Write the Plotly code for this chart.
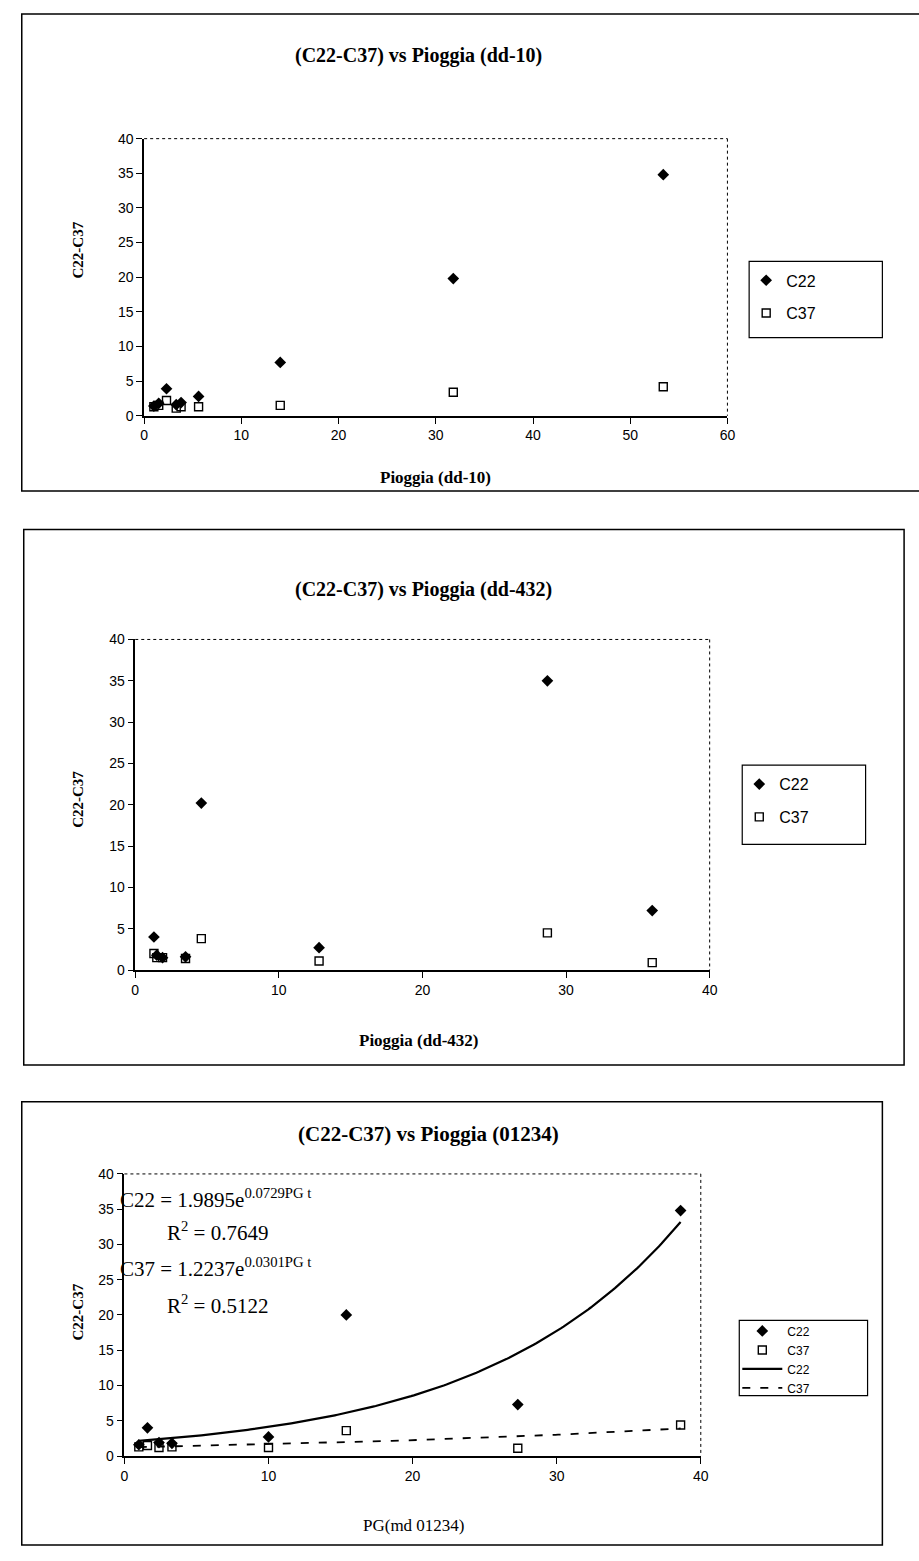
import numpy as np
import plotly.graph_objects as go

W, H = 919, 1561

# ---------------- data ----------------
# Panel 1: (C22-C37) vs Pioggia (dd-10)
p1_x = [1.0, 1.5, 2.3, 3.3, 3.8, 5.6, 14.0, 31.8, 53.4]
p1_c22 = [1.4, 1.8, 3.9, 1.6, 1.9, 2.8, 7.7, 19.8, 34.8]
p1_c37 = [1.3, 1.5, 2.2, 1.1, 1.3, 1.3, 1.5, 3.4, 4.2]

# Panel 2: (C22-C37) vs Pioggia (dd-432)
p2_x = [1.3, 1.5, 1.9, 3.5, 4.6, 12.8, 28.7, 36.0]
p2_c22 = [4.0, 1.8, 1.5, 1.6, 20.2, 2.7, 35.0, 7.2]
p2_c37 = [2.0, 1.5, 1.5, 1.4, 3.8, 1.1, 4.5, 0.9]

# Panel 3: (C22-C37) vs Pioggia (01234)
p3_x = [1.0, 1.6, 2.4, 3.3, 10.0, 15.4, 27.3, 38.6]
p3_c22 = [1.6, 4.0, 1.9, 1.8, 2.7, 20.0, 7.3, 34.8]
p3_c37 = [1.3, 1.5, 1.2, 1.3, 1.2, 3.6, 1.1, 4.4]

# exponential trendline coefficients, as printed on the chart
c22_fit = [1.9895, 0.0729]
c37_fit = [1.2237, 0.0301]

titles = ["(C22-C37) vs Pioggia (dd-10)", "(C22-C37) vs Pioggia (dd-432)",
          "(C22-C37) vs Pioggia (01234)"]
xtitles = ["Pioggia (dd-10)", "Pioggia (dd-432)", "PG(md 01234)"]
ytitle = "C22-C37"

# ---------------- helpers ----------------
def fx(px):
    return px / W

def fy(py):
    return 1 - py / H

SERIF = "Liberation Serif"
SANS = "Liberation Sans"

fig = go.Figure()

# plot-area pixel boxes: (left, right, top, bottom)
boxes = [(142, 733, 132, 412), (133, 715, 638, 972), (122, 706, 1178, 1463)]
xmax = [60, 40, 40]

diamond = dict(symbol="diamond", size=9, color="black")
square = dict(symbol="square-open", size=8, color="black", line=dict(width=1.4, color="black"))

panels = [(p1_x, p1_c22, p1_c37), (p2_x, p2_c22, p2_c37), (p3_x, p3_c22, p3_c37)]
legend_names = ["legend", "legend2", "legend3"]
for i, (xs, a, b) in enumerate(panels):
    xa = "x" if i == 0 else f"x{i+1}"
    ya = "y" if i == 0 else f"y{i+1}"
    fig.add_trace(go.Scatter(x=xs, y=a, mode="markers", marker=diamond, name="C22",
                             xaxis=xa, yaxis=ya, legend=legend_names[i], legendgroup=f"a{i}"))
    fig.add_trace(go.Scatter(x=xs, y=b, mode="markers", marker=square, name="C37",
                             xaxis=xa, yaxis=ya, legend=legend_names[i], legendgroup=f"b{i}"))

# trendlines for panel 3
xt = np.linspace(min(p3_x), max(p3_x), 200)
fig.add_trace(go.Scatter(x=xt, y=c22_fit[0] * np.exp(c22_fit[1] * xt), mode="lines",
                         line=dict(color="black", width=2.2), name="C22",
                         xaxis="x3", yaxis="y3", legend="legend3", legendgroup="c2"))
fig.add_trace(go.Scatter(x=xt, y=c37_fit[0] * np.exp(c37_fit[1] * xt), mode="lines",
                         line=dict(color="black", width=1.8, dash="8px,10px"), name="C37",
                         xaxis="x3", yaxis="y3", legend="legend3", legendgroup="d2"))

layout = dict(width=W, height=H, margin=dict(l=0, r=0, t=0, b=0),
              paper_bgcolor="white", plot_bgcolor="white", showlegend=True)

shapes = []
annotations = []
for i, (l, r, t, b) in enumerate(boxes):
    sfx = "" if i == 0 else str(i + 1)
    layout["xaxis" + sfx] = dict(domain=[fx(l), fx(r)], range=[0, xmax[i]], dtick=10,
                                 anchor="y" + sfx, showgrid=False, zeroline=False,
                                 showline=True, linecolor="black", linewidth=1.5,
                                 ticks="outside", ticklen=6, tickcolor="black",
                                 tickfont=dict(family=SANS, size=14, color="black"),
                                 fixedrange=True)
    layout["yaxis" + sfx] = dict(domain=[fy(b), fy(t)], range=[0, 40], dtick=5,
                                 anchor="x" + sfx, showgrid=False, zeroline=False,
                                 showline=True, linecolor="black", linewidth=1.5,
                                 ticks="outside", ticklen=6, tickcolor="black",
                                 tickfont=dict(family=SANS, size=14, color="black"),
                                 fixedrange=True)
    # dotted plot-area border (top / right)
    shapes.append(dict(type="line", xref="paper", yref="paper", x0=fx(l), x1=fx(r),
                       y0=fy(t), y1=fy(t), line=dict(color="black", width=1, dash="dot")))
    shapes.append(dict(type="line", xref="paper", yref="paper", x0=fx(r), x1=fx(r),
                       y0=fy(t), y1=fy(b), line=dict(color="black", width=1, dash="dot")))

# outer chart frames
frames = [(18, 930, 6, 488), (20, 912, 527, 1068), (18, 890, 1105, 1553)]
for (l, r, t, b) in frames:
    shapes.append(dict(type="rect", xref="paper", yref="paper", x0=fx(l), x1=fx(r),
                       y0=fy(b), y1=fy(t), line=dict(color="black", width=1.5)))

# legend boxes
leg_boxes = [(755, 890, 256, 333), (748, 873, 765, 845), (745, 875, 1326, 1402)]
for (l, r, t, b) in leg_boxes:
    shapes.append(dict(type="rect", xref="paper", yref="paper", x0=fx(l), x1=fx(r),
                       y0=fy(b), y1=fy(t), line=dict(color="black", width=1.2)))

layout["legend"] = dict(x=fx(752), y=fy(258), xanchor="left", yanchor="top",
                        bgcolor="rgba(0,0,0,0)", borderwidth=0, tracegroupgap=9,
                        font=dict(family=SANS, size=16, color="black"))
layout["legend2"] = dict(x=fx(745), y=fy(767), xanchor="left", yanchor="top",
                         bgcolor="rgba(0,0,0,0)", borderwidth=0, tracegroupgap=9,
                         font=dict(family=SANS, size=16, color="black"))
layout["legend3"] = dict(x=fx(743), y=fy(1322), xanchor="left", yanchor="top",
                         bgcolor="rgba(0,0,0,0)", borderwidth=0, tracegroupgap=0,
                         font=dict(family=SANS, size=12, color="black"),
                         itemwidth=40)

# titles
title_pos = [(420, 48, 20), (425, 588, 20), (430, 1138, 21)]
for txt, (x, y, s) in zip(titles, title_pos):
    annotations.append(dict(text=f"<b>{txt}</b>", x=fx(x), y=fy(y), xref="paper", yref="paper",
                            showarrow=False, xanchor="center", yanchor="middle",
                            font=dict(family=SERIF, size=s, color="black")))

xt_pos = [(437, 474, True), (420, 1043, True), (415, 1533, False)]
for txt, (x, y, bold) in zip(xtitles, xt_pos):
    annotations.append(dict(text=f"<b>{txt}</b>" if bold else txt, x=fx(x), y=fy(y),
                            xref="paper", yref="paper", showarrow=False,
                            xanchor="center", yanchor="middle",
                            font=dict(family=SERIF, size=17, color="black")))

yt_pos = [(75, 245), (75, 800), (75, 1318)]
for (x, y) in yt_pos:
    annotations.append(dict(text=f"<b>{ytitle}</b>", x=fx(x), y=fy(y), xref="paper", yref="paper",
                            showarrow=False, textangle=-90, xanchor="center", yanchor="middle",
                            font=dict(family=SERIF, size=15, color="black")))

# trendline equations
eqs = [
    (f"C22 = {c22_fit[0]:.4f}e<sup>{c22_fit[1]:.4f}PG t</sup>", 116, 1203),
    ("R<sup>2</sup> = 0.7649", 163, 1236),
    (f"C37 = {c37_fit[0]:.4f}e<sup>{c37_fit[1]:.4f}PG t</sup>", 116, 1273),
    ("R<sup>2</sup> = 0.5122", 163, 1310),
]
for txt, x, y in eqs:
    annotations.append(dict(text=txt, x=fx(x), y=fy(y), xref="paper", yref="paper",
                            showarrow=False, xanchor="left", yanchor="middle",
                            font=dict(family=SERIF, size=21, color="black")))

layout["shapes"] = shapes
layout["annotations"] = annotations
fig.update_layout(**layout)

fig.write_html("out.html")
